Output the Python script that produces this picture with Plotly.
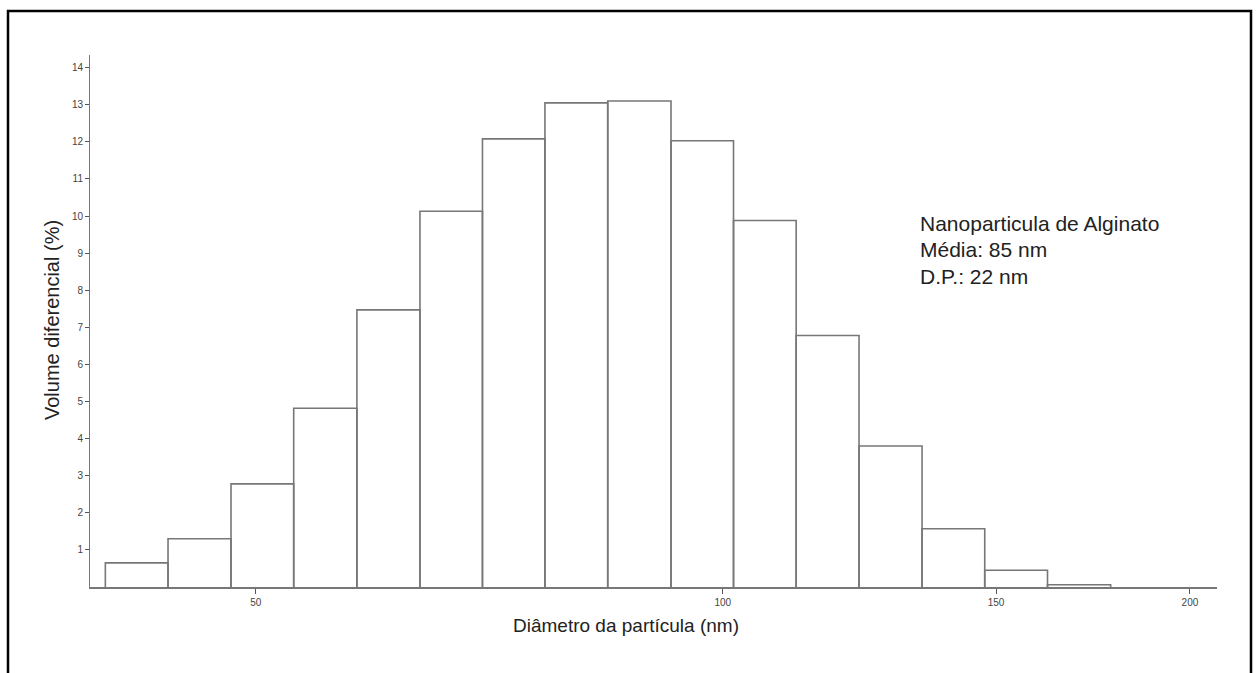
import math
import plotly.graph_objects as go

# ---- data ----
bin_edges_nm = [40.0, 43.9, 48.2, 52.9, 58.1, 63.8, 70.0, 76.8, 84.3, 92.6,
                101.6, 111.5, 122.4, 134.4, 147.5, 161.9, 177.8]
volume_pct = [0.65, 1.30, 2.78, 4.82, 7.47, 10.13, 12.08, 13.05, 13.10, 12.03,
              9.88, 6.78, 3.80, 1.57, 0.45, 0.06]
y_ticks = list(range(1, 15))
x_ticks = [50, 100, 150, 200]
info_lines = ["Nanoparticula de Alginato", "Média: 85 nm", "D.P.: 22 nm"]

W, H = 1258, 673
L, R, T, B = 90, 1217, 55, 587
pw, ph = R - L, B - T

def px(xp):
    return (xp - L) / pw

def py(yp):
    return (B - yp) / ph

# histogram outline built from edges and heights
xs, ys = [], []
for i, v in enumerate(volume_pct):
    a, b = bin_edges_nm[i], bin_edges_nm[i + 1]
    xs += [a, a, b, b, None]
    ys += [0, v, v, 0, None]

fig = go.Figure()
fig.add_trace(go.Scatter(x=xs, y=ys, mode="lines",
                         line=dict(color="#777777", width=1.6),
                         hoverinfo="skip", showlegend=False))

fig.update_layout(
    width=W, height=H,
    margin=dict(l=L, r=W - R, t=T, b=H - B, pad=0),
    paper_bgcolor="white", plot_bgcolor="white",
    font=dict(family="Liberation Sans, Arial, sans-serif", color="#333"),
    showlegend=False,
    xaxis=dict(type="log", range=[math.log10(39.1), math.log10(208.2)],
               tickvals=x_ticks, ticktext=[str(t) for t in x_ticks],
               ticks="outside", ticklen=5, tickcolor="#555", tickwidth=1,
               showline=True, linecolor="#777", linewidth=2,
               showgrid=False, zeroline=False,
               tickfont=dict(size=10, color="#444")),
    yaxis=dict(range=[0, 14.34], tickvals=y_ticks,
               ticks="outside", ticklen=4, tickcolor="#555", tickwidth=1,
               showline=True, linecolor="#777", linewidth=1,
               showgrid=False, zeroline=False,
               tickfont=dict(size=10, color="#444")),
)

# axis titles
fig.add_annotation(text="Diâmetro da partícula (nm)", xref="paper", yref="paper",
                   x=px(626), y=py(625), showarrow=False,
                   font=dict(size=19, color="#222"), xanchor="center", yanchor="middle")
fig.add_annotation(text="Volume diferencial (%)", xref="paper", yref="paper",
                   x=px(52), y=py(320), showarrow=False, textangle=-90,
                   font=dict(size=20, color="#222"), xanchor="center", yanchor="middle")

# info text
for i, line in enumerate(info_lines):
    fig.add_annotation(text=line, xref="paper", yref="paper",
                       x=px(918), y=py(223 + 26.5 * i), showarrow=False,
                       font=dict(size=21, color="#222"),
                       xanchor="left", yanchor="middle")

# outer frame
fig.add_shape(type="path", xref="paper", yref="paper",
              path=f"M {px(8)} {py(690)} L {px(8)} {py(11)} L {px(1251)} {py(11)} L {px(1251)} {py(690)}",
              line=dict(color="black", width=2.5))

fig.write_html("out.html", config={"displayModeBar": False},
               post_script="document.body.style.margin='0';")
